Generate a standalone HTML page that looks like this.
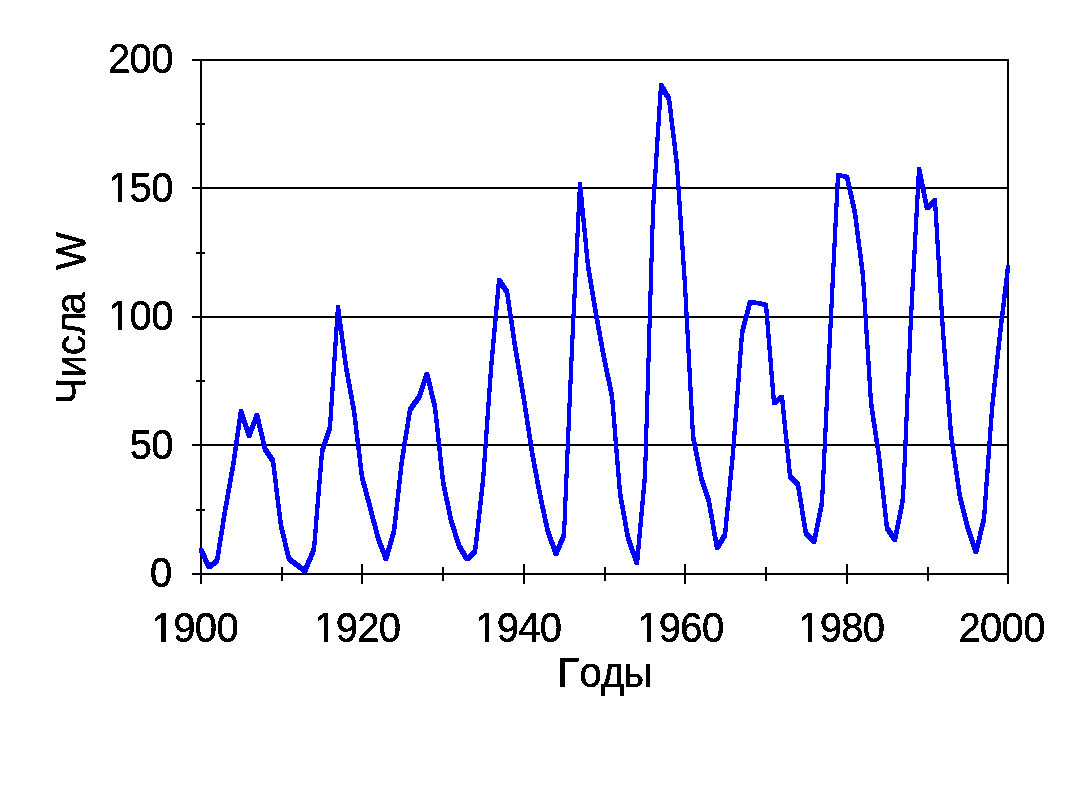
<!DOCTYPE html>
<html lang="ru">
<head>
<meta charset="utf-8">
<title>Числа W</title>
<style>
html,body{margin:0;padding:0;background:#fff;}
body{width:1067px;height:801px;overflow:hidden;position:relative;}
svg{position:absolute;left:0;top:0;display:block;}
text{font-family:"Liberation Sans",sans-serif;font-size:40px;fill:#000;stroke:#000;stroke-width:0.4px;stroke-linejoin:miter;}
</style>
</head>
<body>
<svg width="1067" height="801" viewBox="0 0 1067 801">
<defs><filter id="bin" x="-5%" y="-5%" width="110%" height="110%" color-interpolation-filters="sRGB"><feComponentTransfer><feFuncA type="discrete" tableValues="0 1"/></feComponentTransfer></filter></defs>
<rect x="0" y="0" width="1067" height="801" fill="#ffffff"/>
<g fill="#000" shape-rendering="crispEdges">
<!-- left axis -->
<rect x="200" y="59" width="2" height="525"/>
<!-- right border -->
<rect x="1007" y="59" width="2" height="525"/>
<!-- gridlines incl. top and y major ticks -->
<rect x="192" y="59" width="817" height="2"/>
<rect x="192" y="187" width="817" height="2"/>
<rect x="192" y="316" width="817" height="2"/>
<rect x="192" y="444" width="817" height="2"/>
<!-- y minor ticks -->
<rect x="196" y="123" width="9" height="2"/>
<rect x="196" y="252" width="9" height="2"/>
<rect x="196" y="380" width="9" height="2"/>
<rect x="196" y="509" width="9" height="2"/>
</g>
<path d="M199,548 203,548 211,565 211,569 207,569 199,552ZM207,565 215,559 219,559 219,563 211,569 207,569ZM215,559 223,509 227,509 227,513 219,563 215,563ZM223,509 231,464 235,464 235,468 227,513 223,513ZM231,464 239,409 243,409 243,413 235,468 231,468ZM239,409 243,409 251,434 251,438 247,438 239,413ZM247,434 255,413 259,413 259,417 251,438 247,438ZM255,413 259,413 267,447 267,451 263,451 255,417ZM263,447 267,447 275,459 275,463 271,463 263,451ZM271,459 275,459 283,524 283,528 279,528 271,463ZM279,524 283,524 291,557 291,561 287,561 279,528ZM287,557 291,557 299,563 299,567 295,567 287,561ZM295,563 299,563 307,569 307,573 303,573 295,567ZM303,569 312,547 316,547 316,551 307,573 303,573ZM312,547 320,450 324,450 324,454 316,551 312,551ZM320,450 328,425 332,425 332,429 324,454 320,454ZM328,425 336,305 340,305 340,309 332,429 328,429ZM336,305 340,305 348,365 348,369 344,369 336,309ZM344,365 348,365 356,409 356,413 352,413 344,369ZM352,409 356,409 364,475 364,479 360,479 352,413ZM360,475 364,475 372,505 372,509 368,509 360,479ZM368,505 372,505 380,536 380,540 376,540 368,509ZM376,536 380,536 388,557 388,561 384,561 376,540ZM384,557 392,529 396,529 396,533 388,561 384,561ZM392,529 400,458 404,458 404,462 396,533 392,533ZM400,458 408,408 412,408 412,412 404,462 400,462ZM408,408 417,395 421,395 421,399 412,412 408,412ZM417,395 425,372 429,372 429,376 421,399 417,399ZM425,372 429,372 437,405 437,409 433,409 425,376ZM433,405 437,405 445,480 445,484 441,484 433,409ZM441,480 445,480 453,518 453,522 449,522 441,484ZM449,518 453,518 461,544 461,548 457,548 449,522ZM457,544 461,544 469,557 469,561 465,561 457,548ZM465,557 473,550 477,550 477,554 469,561 465,561ZM473,550 481,479 485,479 485,483 477,554 473,554ZM481,479 489,367 493,367 493,371 485,483 481,483ZM489,367 497,278 501,278 501,282 493,371 489,371ZM497,278 501,278 509,290 509,294 505,294 497,282ZM505,290 509,290 517,344 517,348 513,348 505,294ZM513,344 517,344 526,398 526,402 522,402 513,348ZM522,398 526,398 534,450 534,454 530,454 522,402ZM530,450 534,450 542,493 542,497 538,497 530,454ZM538,493 542,493 550,530 550,534 546,534 538,497ZM546,530 550,530 558,552 558,556 554,556 546,534ZM554,552 562,533 566,533 566,537 558,556 554,556ZM562,533 570,345 574,345 574,349 566,537 562,537ZM570,345 578,182 582,182 582,186 574,349 570,349ZM578,182 582,182 590,264 590,268 586,268 578,186ZM586,264 590,264 598,312 598,316 594,316 586,268ZM594,312 598,312 606,356 606,360 602,360 594,316ZM602,356 606,356 614,394 614,398 610,398 602,360ZM610,394 614,394 622,491 622,495 618,495 610,398ZM618,491 622,491 630,536 630,540 626,540 618,495ZM626,536 630,536 639,561 639,565 635,565 626,540ZM635,561 643,474 647,474 647,478 639,565 635,565ZM643,474 651,208 655,208 655,212 647,478 643,478ZM651,208 659,83 663,83 663,87 655,212 651,212ZM659,83 663,83 671,97 671,101 667,101 659,87ZM667,97 671,97 679,163 679,167 675,167 667,101ZM675,163 679,163 687,283 687,287 683,287 675,167ZM683,283 687,283 695,434 695,438 691,438 683,287ZM691,434 695,434 703,475 703,479 699,479 691,438ZM699,475 703,475 711,500 711,504 707,504 699,479ZM707,500 711,500 719,546 719,550 715,550 707,504ZM715,546 723,533 727,533 727,537 719,550 715,550ZM723,533 731,451 735,451 735,455 727,537 723,537ZM731,451 740,331 744,331 744,335 735,455 731,455ZM740,331 748,300 752,300 752,304 744,335 740,335ZM748,300 752,300 760,301 760,305 756,305 748,304ZM756,301 760,301 768,303 768,307 764,307 756,305ZM764,303 768,303 776,401 776,405 772,405 764,307ZM772,401 780,395 784,395 784,399 776,405 772,405ZM780,395 784,395 792,474 792,478 788,478 780,399ZM788,474 792,474 800,483 800,487 796,487 788,478ZM796,483 800,483 808,532 808,536 804,536 796,487ZM804,532 808,532 816,540 816,544 812,544 804,536ZM812,540 820,501 824,501 824,505 816,544 812,544ZM820,501 828,334 832,334 832,338 824,505 820,505ZM828,334 836,173 840,173 840,177 832,338 828,338ZM836,173 840,173 849,175 849,179 845,179 836,177ZM845,175 849,175 857,211 857,215 853,215 845,179ZM853,211 857,211 865,274 865,278 861,278 853,215ZM861,274 865,274 873,401 873,405 869,405 861,278ZM869,401 873,401 881,454 881,458 877,458 869,405ZM877,454 881,454 889,526 889,530 885,530 877,458ZM885,526 889,526 897,538 897,542 893,542 885,530ZM893,538 901,497 905,497 905,501 897,542 893,542ZM901,497 909,315 913,315 913,319 905,501 901,501ZM909,315 917,167 921,167 921,171 913,319 909,319ZM917,167 921,167 929,206 929,210 925,210 917,171ZM925,206 933,198 937,198 937,202 929,210 925,210ZM933,198 937,198 945,330 945,334 941,334 933,202ZM941,330 945,330 953,432 953,436 949,436 941,334ZM949,432 953,432 962,495 962,499 958,499 949,436ZM958,495 962,495 970,527 970,531 966,531 958,499ZM966,527 970,527 978,550 978,554 974,554 966,531ZM974,550 982,517 986,517 986,521 978,554 974,554ZM982,517 990,407 994,407 994,411 986,521 982,521ZM990,407 998,332 1002,332 1002,336 994,411 990,411ZM998,332 1006,265 1010,265 1010,269 1002,336 998,336Z" fill="#0000ff" fill-rule="nonzero" stroke="none" shape-rendering="crispEdges"/>
<g fill="#000" shape-rendering="crispEdges">
<!-- x axis -->
<rect x="192" y="573" width="817" height="2"/>
<!-- x major ticks -->
<rect x="361" y="564" width="2" height="20"/>
<rect x="523" y="564" width="2" height="20"/>
<rect x="684" y="564" width="2" height="20"/>
<rect x="846" y="564" width="2" height="20"/>
<!-- x minor ticks -->
<rect x="281" y="567" width="2" height="14"/>
<rect x="442" y="567" width="2" height="14"/>
<rect x="604" y="567" width="2" height="14"/>
<rect x="765" y="567" width="2" height="14"/>
<rect x="927" y="567" width="2" height="14"/>
</g>
<g filter="url(#bin)">
<g text-anchor="end" letter-spacing="-0.65">
<text transform="translate(172.8,73) scale(1,1.045)">200</text>
<text transform="translate(172.8,202) scale(1,1.045)">150</text>
<text transform="translate(172.8,330) scale(1,1.045)">100</text>
<text transform="translate(172.8,459) scale(1,1.045)">50</text>
<text transform="translate(171.6,587) scale(1,1.045)">0</text>
</g>
<g text-anchor="start" letter-spacing="-0.65">
<text transform="translate(151.7,642) scale(1,1.045)">1900</text>
<text transform="translate(314.1,642) scale(1,1.045)">1920</text>
<text transform="translate(475.1,642) scale(1,1.045)">1940</text>
<text transform="translate(637.2,642) scale(1,1.045)">1960</text>
<text transform="translate(798.1,642) scale(1,1.045)">1980</text>
<text transform="translate(958.4,642) scale(1,1.045)">2000</text>
</g>
<text transform="translate(557.5,687) scale(1,1.045)" dx="0 3.0 0.5 -1.2">Годы</text>
<text transform="translate(85,404.2) rotate(-90) scale(1,1.045)" dx="0 0 0 0 -2.5" xml:space="preserve" style="white-space:pre">Числа  W</text>
</g>
<g fill="#ffffff" shape-rendering="crispEdges">
<rect x="153" y="638" width="8" height="5"/>
<rect x="166" y="638" width="7" height="5"/>
<rect x="316" y="638" width="8" height="5"/>
<rect x="328" y="638" width="7" height="5"/>
<rect x="477" y="638" width="8" height="5"/>
<rect x="489" y="638" width="7" height="5"/>
<rect x="639" y="638" width="8" height="5"/>
<rect x="651" y="638" width="7" height="5"/>
<rect x="800" y="638" width="8" height="5"/>
<rect x="812" y="638" width="7" height="5"/>
<rect x="110" y="198" width="8" height="5"/>
<rect x="122" y="198" width="8" height="5"/>
<rect x="110" y="326" width="8" height="5"/>
<rect x="122" y="326" width="8" height="5"/>
</g>
</svg>
</body>
</html>
